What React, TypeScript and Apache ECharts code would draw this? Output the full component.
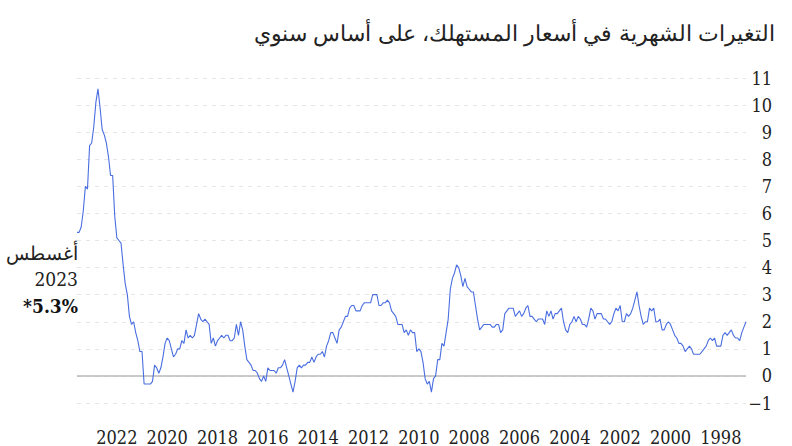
import React, { useEffect, useRef } from "react";
import * as echarts from "echarts";

// Monthly annual inflation rate (%), Jan 1997 .. Aug 2023
const v1997 = [2.0, 1.8, 1.6, 1.3, 1.4, 1.4, 1.5, 1.7, 1.6, 1.5, 1.6, 1.5];
const v1998 = [1.1, 1.1, 1.1, 1.4, 1.3, 1.4, 1.3, 1.1, 1.0, 0.9, 0.8, 0.8];
const v1999 = [0.8, 0.8, 1.0, 1.1, 1.0, 0.9, 1.1, 1.2, 1.2, 1.4, 1.5, 1.7];
const v2000 = [1.9, 2.0, 1.9, 1.7, 1.7, 2.1, 2.0, 2.0, 2.5, 2.4, 2.5, 2.0];
const v2001 = [2.0, 1.9, 2.2, 2.6, 3.1, 2.8, 2.5, 2.3, 2.2, 2.3, 2.0, 2.0];
const v2002 = [2.6, 2.4, 2.5, 2.3, 2.0, 1.9, 2.0, 2.1, 2.1, 2.3, 2.3, 2.3];
const v2003 = [2.1, 2.4, 2.5, 2.1, 1.8, 1.9, 1.9, 2.1, 2.2, 2.0, 2.2, 2.0];
const v2004 = [1.9, 1.6, 1.7, 2.0, 2.5, 2.4, 2.3, 2.3, 2.1, 2.4, 2.2, 2.4];
const v2005 = [1.9, 2.1, 2.1, 2.1, 2.0, 2.1, 2.2, 2.2, 2.6, 2.5, 2.3, 2.2];
const v2006 = [2.4, 2.3, 2.2, 2.5, 2.5, 2.5, 2.4, 2.3, 1.7, 1.6, 1.9, 1.9];
const v2007 = [1.8, 1.8, 1.9, 1.9, 1.9, 1.9, 1.8, 1.7, 2.1, 2.6, 3.1, 3.1];
const v2008 = [3.2, 3.3, 3.6, 3.3, 3.7, 4.0, 4.1, 3.8, 3.6, 3.2, 2.1, 1.6];
const v2009 = [1.1, 1.2, 0.6, 0.6, 0.0, -0.1, -0.6, -0.2, -0.3, -0.1, 0.5, 0.9];
const v2010 = [1.0, 0.9, 1.6, 1.6, 1.7, 1.5, 1.7, 1.6, 1.9, 1.9, 1.9, 2.2];
const v2011 = [2.3, 2.4, 2.7, 2.8, 2.7, 2.7, 2.6, 2.6, 3.0, 3.0, 3.0, 2.7];
const v2012 = [2.7, 2.7, 2.7, 2.6, 2.4, 2.4, 2.4, 2.6, 2.6, 2.5, 2.2, 2.2];
const v2013 = [2.0, 1.8, 1.7, 1.2, 1.4, 1.6, 1.6, 1.3, 1.1, 0.7, 0.9, 0.8];
const v2014 = [0.8, 0.7, 0.5, 0.7, 0.5, 0.5, 0.4, 0.4, 0.3, 0.4, 0.3, -0.2];
const v2015 = [-0.6, -0.3, 0.0, 0.3, 0.6, 0.4, 0.3, 0.3, 0.1, 0.2, 0.2, 0.2];
const v2016 = [0.3, -0.2, 0.0, -0.2, -0.1, 0.1, 0.2, 0.2, 0.4, 0.5, 0.6, 1.1];
const v2017 = [1.7, 2.0, 1.5, 1.9, 1.4, 1.3, 1.3, 1.5, 1.5, 1.4, 1.5, 1.4];
const v2018 = [1.3, 1.1, 1.4, 1.2, 1.9, 2.0, 2.1, 2.0, 2.1, 2.3, 1.9, 1.5];
const v2019 = [1.4, 1.5, 1.4, 1.7, 1.2, 1.3, 1.0, 1.0, 0.8, 0.7, 1.0, 1.3];
const v2020 = [1.4, 1.2, 0.7, 0.3, 0.1, 0.3, 0.4, -0.2, -0.3, -0.3, -0.3, -0.3];
const v2021 = [0.9, 0.9, 1.3, 1.6, 2.0, 1.9, 2.2, 3.0, 3.4, 4.1, 4.9, 5.0];
const v2022 = [5.1, 5.9, 7.4, 7.4, 8.1, 8.6, 8.9, 9.1, 9.9, 10.6, 10.1, 9.2];
const v2023 = [8.6, 8.5, 6.9, 7.0, 6.1, 5.5, 5.3, 5.3];

const startYear = 1997;
const yearTicks = [1998, 2000, 2002, 2004, 2006, 2008, 2010, 2012, 2014, 2016, 2018, 2020, 2022];

const subtitle = "التغيرات الشهرية في أسعار المستهلك، على أساس سنوي";
const noteLines = ["أغسطس", "2023", "*5.3%"];

const allValues = [
  ...v1997, ...v1998, ...v1999, ...v2000, ...v2001, ...v2002, ...v2003, ...v2004,
  ...v2005, ...v2006, ...v2007, ...v2008, ...v2009, ...v2010, ...v2011, ...v2012,
  ...v2013, ...v2014, ...v2015, ...v2016, ...v2017, ...v2018, ...v2019, ...v2020,
  ...v2021, ...v2022, ...v2023,
];

export default function App() {
  const ref = useRef<HTMLDivElement>(null);
  useEffect(() => {
    if (!ref.current) return;
    const chart = echarts.init(ref.current, undefined, { renderer: "svg" });
    const data = allValues.map((v, i) => [startYear + i / 12, v]);
    const maxX = startYear + (allValues.length - 1) / 12;
    const serif = '"DejaVu Serif Condensed"';
    chart.setOption({
      animation: false,
      backgroundColor: "#ffffff",
      textStyle: { fontFamily: serif },
      grid: { left: 77, right: 46, top: 78, bottom: 43, containLabel: false },
      xAxis: {
        type: "value",
        inverse: true,
        min: startYear,
        max: maxX,
        axisLine: { show: false },
        axisTick: { show: false },
        splitLine: { show: false },
        axisLabel: {
          customValues: yearTicks,
          formatter: (v: number) => String(Math.round(v)),
          fontSize: 18,
          color: "#222",
          fontFamily: serif,
          margin: 25,
        },
      },
      yAxis: {
        type: "value",
        position: "right",
        min: -1,
        max: 11,
        interval: 1,
        axisLine: { show: false },
        axisTick: { show: false },
        axisLabel: {
          fontSize: 18,
          color: "#222",
          fontFamily: serif,
          align: "right",
          margin: 26,
          formatter: (v: number) => (v < 0 ? "\u2212" + Math.abs(v) : String(v)),
        },
        splitLine: {
          show: true,
          lineStyle: { color: "#e6e6e6", type: [4, 5], width: 1.2 },
        },
      },
      series: [
        {
          type: "line",
          data,
          symbol: "none",
          lineStyle: { color: "#4a6ee0", width: 1.1 },
          z: 3,
          markLine: {
            silent: true,
            symbol: "none",
            label: { show: false },
            lineStyle: { color: "#b8b8b8", type: "solid", width: 1.5 },
            data: [{ yAxis: 0 }],
            z: 2,
          },
        },
      ],
      graphic: [
        {
          type: "text",
          right: 17,
          top: 22,
          style: {
            text: subtitle,
            fontSize: 22,
            fill: "#222",
            fontFamily: serif,
          },
        },
        {
          type: "text",
          x: 78,
          y: 253,
          style: {
            text: noteLines[0],
            fontSize: 19,
            fill: "#222",
            fontFamily: serif,
            align: "right",
            verticalAlign: "middle",
          },
        },
        {
          type: "text",
          x: 78,
          y: 279,
          style: {
            text: noteLines[1],
            fontSize: 19,
            fill: "#222",
            fontFamily: serif,
            align: "right",
            verticalAlign: "middle",
          },
        },
        {
          type: "text",
          x: 78,
          y: 306,
          style: {
            text: noteLines[2],
            fontSize: 19,
            fontWeight: "bold",
            fill: "#111",
            fontFamily: serif,
            align: "right",
            verticalAlign: "middle",
          },
        },
      ],
    });
    return () => chart.dispose();
  }, []);
  return (
    <div
      ref={ref}
      style={{ position: "fixed", left: 0, top: 0, width: 792, height: 446 }}
    />
  );
}
